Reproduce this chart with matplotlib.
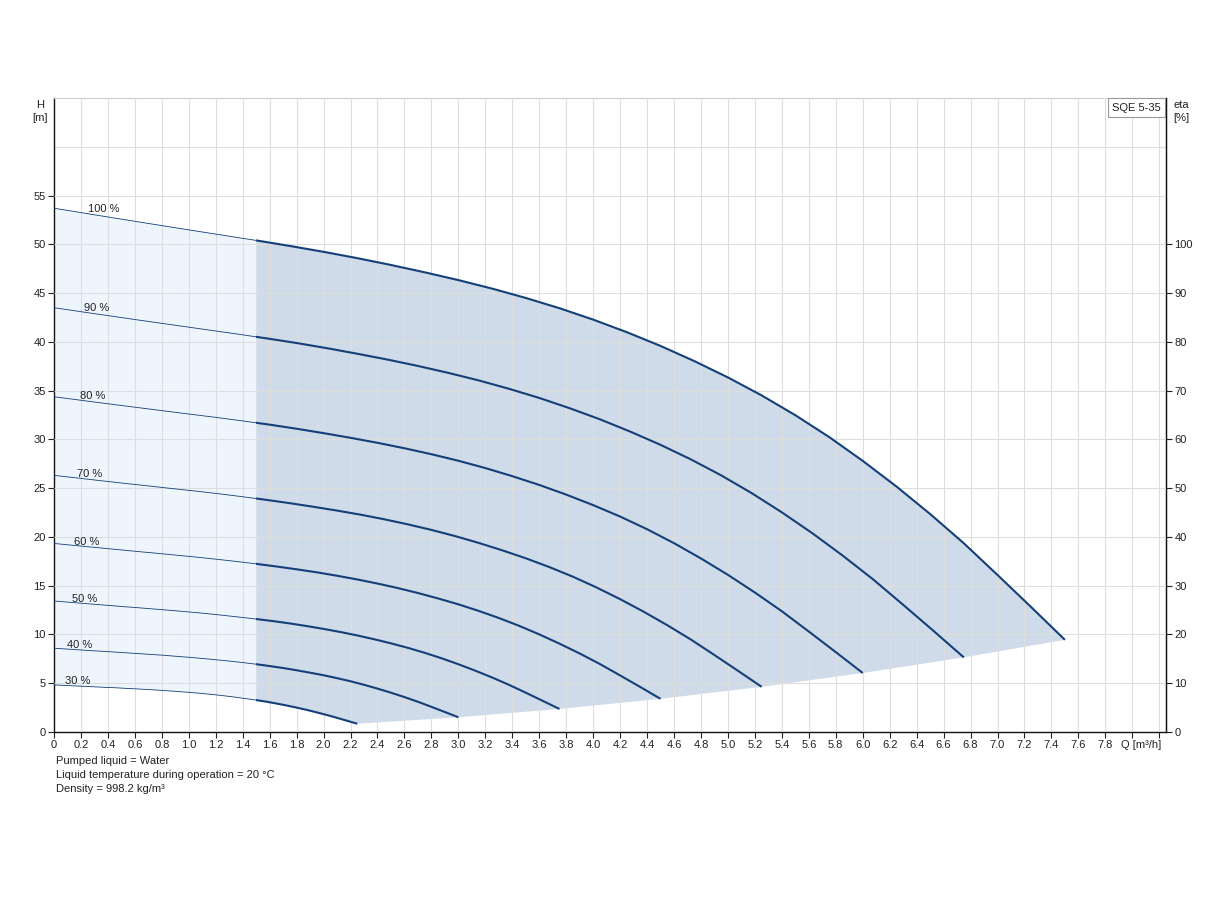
import matplotlib.pyplot as plt
from matplotlib.patches import Rectangle
from matplotlib.transforms import ScaledTranslation
import numpy as np

plt.rcParams['font.family'] = ['Liberation Sans', 'DejaVu Sans']

# pump curves Q [m3/h] / H [m], one pair per speed
q100 = [0, 0.25, 0.5, 0.75, 1.0, 1.25, 1.5, 1.75, 2.0, 2.25, 2.5, 2.75, 3.0, 3.25, 3.5, 3.75,
        4.0, 4.25, 4.5, 4.75, 5.0, 5.25, 5.5, 5.75, 6.0, 6.25, 6.5, 6.75, 7.0, 7.25, 7.5]
h100 = [53.70, 53.14, 52.58, 52.03, 51.48, 50.94, 50.40, 49.83, 49.23, 48.58, 47.88, 47.13,
        46.33, 45.46, 44.50, 43.45, 42.28, 40.99, 39.58, 38.03, 36.35, 34.51, 32.48, 30.25,
        27.80, 25.17, 22.35, 19.35, 16.10, 12.80, 9.45]

q90 = [0, 0.225, 0.45, 0.675, 0.9, 1.125, 1.35, 1.575, 1.8, 2.025, 2.25, 2.475, 2.7, 2.925,
       3.15, 3.375, 3.6, 3.825, 4.05, 4.275, 4.5, 4.725, 4.95, 5.175, 5.4, 5.625, 5.85, 6.075,
       6.3, 6.525, 6.75]
h90 = [43.50, 43.04, 42.59, 42.14, 41.70, 41.26, 40.82, 40.36, 39.88, 39.35, 38.78, 38.18,
       37.53, 36.82, 36.05, 35.19, 34.25, 33.20, 32.06, 30.80, 29.44, 27.95, 26.31, 24.50,
       22.52, 20.39, 18.10, 15.67, 13.04, 10.37, 7.65]

q80 = [0, 0.2, 0.4, 0.6, 0.8, 1.0, 1.2, 1.4, 1.6, 1.8, 2.0, 2.2, 2.4, 2.6, 2.8, 3.0,
       3.2, 3.4, 3.6, 3.8, 4.0, 4.2, 4.4, 4.6, 4.8, 5.0, 5.2, 5.4, 5.6, 5.8, 6.0]
h80 = [34.37, 34.01, 33.65, 33.30, 32.95, 32.60, 32.26, 31.89, 31.51, 31.09, 30.64, 30.16,
       29.65, 29.09, 28.48, 27.81, 27.06, 26.23, 25.33, 24.34, 23.26, 22.09, 20.79, 19.36,
       17.79, 16.11, 14.30, 12.38, 10.30, 8.19, 6.05]

q70 = [0, 0.175, 0.35, 0.525, 0.7, 0.875, 1.05, 1.225, 1.4, 1.575, 1.75, 1.925, 2.1, 2.275,
       2.45, 2.625, 2.8, 2.975, 3.15, 3.325, 3.5, 3.675, 3.85, 4.025, 4.2, 4.375, 4.55, 4.725,
       4.9, 5.075, 5.25]
h70 = [26.31, 26.04, 25.76, 25.49, 25.23, 24.96, 24.70, 24.42, 24.12, 23.80, 23.46, 23.09,
       22.70, 22.28, 21.81, 21.29, 20.72, 20.09, 19.39, 18.63, 17.81, 16.91, 15.92, 14.82,
       13.62, 12.33, 10.95, 9.48, 7.89, 6.27, 4.63]

q60 = [0, 0.15, 0.3, 0.45, 0.6, 0.75, 0.9, 1.05, 1.2, 1.35, 1.5, 1.65, 1.8, 1.95, 2.1, 2.25,
       2.4, 2.55, 2.7, 2.85, 3.0, 3.15, 3.3, 3.45, 3.6, 3.75, 3.9, 4.05, 4.2, 4.35, 4.5]
h60 = [19.33, 19.13, 18.93, 18.73, 18.53, 18.34, 18.14, 17.94, 17.72, 17.49, 17.24, 16.97,
       16.68, 16.37, 16.02, 15.64, 15.22, 14.76, 14.25, 13.69, 13.09, 12.42, 11.69, 10.89,
       10.01, 9.06, 8.05, 6.97, 5.80, 4.61, 3.40]

q50 = [0, 0.125, 0.25, 0.375, 0.5, 0.625, 0.75, 0.875, 1.0, 1.125, 1.25, 1.375, 1.5, 1.625,
       1.75, 1.875, 2.0, 2.125, 2.25, 2.375, 2.5, 2.625, 2.75, 2.875, 3.0, 3.125, 3.25, 3.375,
       3.5, 3.625, 3.75]
h50 = [13.43, 13.29, 13.15, 13.01, 12.87, 12.74, 12.60, 12.46, 12.31, 12.15, 11.97, 11.78,
       11.58, 11.37, 11.13, 10.86, 10.57, 10.25, 9.90, 9.51, 9.09, 8.63, 8.12, 7.56,
       6.95, 6.29, 5.59, 4.84, 4.03, 3.20, 2.36]

q40 = [0, 0.1, 0.2, 0.3, 0.4, 0.5, 0.6, 0.7, 0.8, 0.9, 1.0, 1.1, 1.2, 1.3, 1.4, 1.5,
       1.6, 1.7, 1.8, 1.9, 2.0, 2.1, 2.2, 2.3, 2.4, 2.5, 2.6, 2.7, 2.8, 2.9, 3.0]
h40 = [8.59, 8.50, 8.41, 8.32, 8.24, 8.15, 8.06, 7.97, 7.88, 7.77, 7.66, 7.54,
       7.41, 7.27, 7.12, 6.95, 6.76, 6.56, 6.33, 6.08, 5.82, 5.52, 5.20, 4.84,
       4.45, 4.03, 3.58, 3.10, 2.58, 2.05, 1.51]

q30 = [0, 0.075, 0.15, 0.225, 0.3, 0.375, 0.45, 0.525, 0.6, 0.675, 0.75, 0.825, 0.9, 0.975,
       1.05, 1.125, 1.2, 1.275, 1.35, 1.425, 1.5, 1.575, 1.65, 1.725, 1.8, 1.875, 1.95, 2.025,
       2.1, 2.175, 2.25]
h30 = [4.83, 4.78, 4.73, 4.68, 4.63, 4.58, 4.54, 4.48, 4.43, 4.37, 4.31, 4.24,
       4.17, 4.09, 4.01, 3.91, 3.81, 3.69, 3.56, 3.42, 3.27, 3.11, 2.92, 2.72,
       2.50, 2.27, 2.01, 1.74, 1.45, 1.15, 0.85]

speed_labels = ['100 %', '90 %', '80 %', '70 %', '60 %', '50 %', '40 %', '30 %']
label_q = [0.25, 0.22, 0.19, 0.17, 0.15, 0.13, 0.10, 0.08]
label_h = [53.6, 43.5, 34.4, 26.4, 19.5, 13.6, 8.9, 5.2]

notes = ['Pumped liquid = Water',
         'Liquid temperature during operation = 20 \u00b0C',
         'Density = 998.2 kg/m\u00b3']

curves = [(q100, h100), (q90, h90), (q80, h80), (q70, h70),
          (q60, h60), (q50, h50), (q40, h40), (q30, h30)]

LINE = '#143f78'
DARK_FILL = '#cfdbe8'
LIGHT_FILL = '#eef5fd'
GRID = '#dedede'

fig = plt.figure(figsize=(12.24, 9), dpi=100)
ax = fig.add_axes([54 / 1224, 1 - 732 / 900, 1112 / 1224, 634 / 900])
ax.set_xlim(0, 8.25)
ax.set_ylim(0, 65)

# light area left of Q = 1.5, between 30 % and 100 % curves
split = q100.index(1.5)
split30 = q30.index(1.5)
light_q = q100[:split + 1] + q30[:split30 + 1][::-1]
light_h = h100[:split + 1] + h30[:split30 + 1][::-1]
ax.fill(light_q, light_h, color=LIGHT_FILL, lw=0, zorder=1)

# dark operating area: 100 % curve, end points of each curve, 30 % curve back
end_q = [c[0][-1] for c in curves[1:-1]]
end_h = [c[1][-1] for c in curves[1:-1]]
dark_q = q100[split:] + end_q + q30[split30:][::-1]
dark_h = h100[split:] + end_h + h30[split30:][::-1]
ax.fill(dark_q, dark_h, color=DARK_FILL, lw=0, zorder=1)

for q, h in curves:
    thin, = ax.plot(q, h, color=LINE, lw=0.6, zorder=3)
    thin.set_clip_path(Rectangle((0, -5), 1.5, 90, transform=ax.transData))
    thick, = ax.plot(q, h, color=LINE, lw=1.5, zorder=3, solid_capstyle='butt')
    thick.set_clip_path(Rectangle((1.5, -5), 10, 90, transform=ax.transData))

for lab, lq, lh in zip(speed_labels, label_q, label_h):
    ax.text(lq, lh, lab, fontsize=8, ha='left', va='center', color='#222222', zorder=4)

# axes, ticks, grid
xt = np.round(np.arange(0, 8.21, 0.2), 1)
xlabels = []
for v in xt:
    if v == 0:
        xlabels.append('0')
    elif abs(v - 8.0) < 1e-6:
        xlabels.append('Q [m\u00b3/h]')
    elif v > 8.0:
        xlabels.append('')
    else:
        xlabels.append(f'{v:.1f}')
ax.set_xticks(xt)
ax.set_xticklabels(xlabels)
ax.set_yticks(np.arange(0, 56, 5))
ax.axhline(60, color=GRID, lw=0.8, zorder=2.5)
ax.grid(True, color=GRID, lw=0.8)
ax.set_axisbelow(False)
ax.get_xgridlines()[0].set_visible(False)
ax.tick_params(labelsize=8, length=4, width=0.8, colors='#222222', pad=2)

# unit label sits a bit right of the 8.0 tick
qlab = ax.get_xticklabels()[40]
qlab.set_transform(qlab.get_transform() + ScaledTranslation(0.09, 0, fig.dpi_scale_trans))

ax.spines['top'].set_color('#cccccc')
ax.spines['top'].set_linewidth(0.8)
for s in ['left', 'bottom', 'right']:
    ax.spines[s].set_color('#111111')
    ax.spines[s].set_linewidth(1.0)

ax2 = ax.twinx()
ax2.set_ylim(0, 130)
ax2.set_yticks(np.arange(0, 101, 10))
ax2.tick_params(labelsize=8, length=4, width=0.8, colors='#222222', pad=2)
for s in ['left', 'bottom', 'top']:
    ax2.spines[s].set_visible(False)
ax2.spines['right'].set_color('#111111')

fig.text(40 / 1224, 1 - 100 / 900, 'H\n[m]', ha='center', va='top', fontsize=8,
         linespacing=1.4, color='#222222')
fig.text(1181 / 1224, 1 - 100 / 900, 'eta\n[%]', ha='center', va='top', fontsize=8,
         linespacing=1.4, color='#222222')

ax.text(0.9735, 0.985, 'SQE 5-35', transform=ax.transAxes, ha='center', va='center',
        fontsize=8, color='#222222', zorder=5,
        bbox=dict(boxstyle='square,pad=0.4', fc='white', ec='#999999', lw=0.8))

for i, line in enumerate(notes):
    fig.text(56 / 1224, 1 - (761 + 14 * i) / 900, line, ha='left', va='center',
             fontsize=8, color='#222222')

fig.savefig('out.png', dpi=100)
